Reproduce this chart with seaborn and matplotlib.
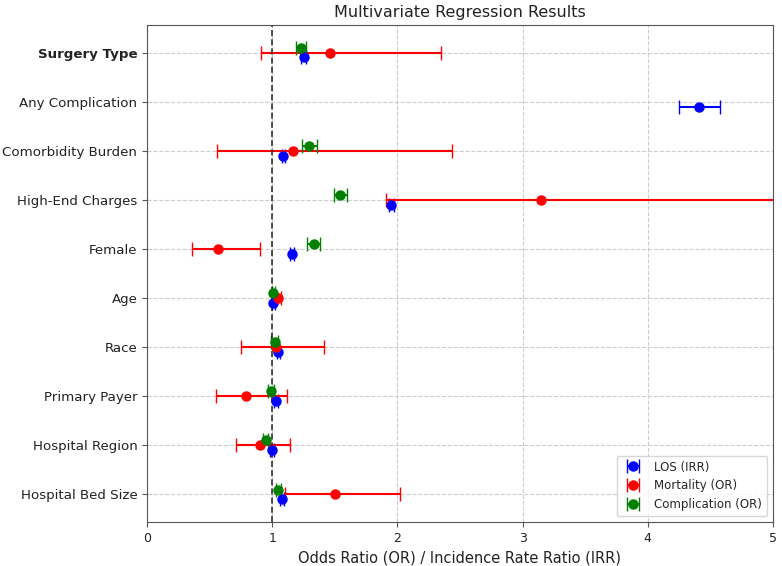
import numpy as np
import pandas as pd
import matplotlib
matplotlib.use("Agg")
import matplotlib.pyplot as plt
import seaborn as sns

sns.set_style("white")
plt.rcParams['font.family'] = ['DejaVu Sans']

# Predictors, top to bottom
predictors = ['Surgery Type', 'Any Complication', 'Comorbidity Burden', 'High-End Charges',
              'Female', 'Age', 'Race', 'Primary Payer', 'Hospital Region', 'Hospital Bed Size']

# LOS (IRR)
los_est = [1.25, 4.41, 1.09, 1.95, 1.16, 1.01, 1.05, 1.03, 1.00, 1.08]
los_lo = [1.23, 4.25, 1.075, 1.93, 1.145, 0.995, 1.035, 1.015, 0.985, 1.065]
los_hi = [1.27, 4.58, 1.105, 1.97, 1.175, 1.025, 1.065, 1.045, 1.015, 1.095]

# Mortality (OR)
mort_est = [1.46, np.nan, 1.17, 3.15, 0.57, 1.05, 1.03, 0.79, 0.90, 1.50]
mort_lo = [0.91, np.nan, 0.56, 1.91, 0.36, 1.03, 0.75, 0.55, 0.71, 1.10]
mort_hi = [2.35, np.nan, 2.44, 5.60, 0.90, 1.07, 1.41, 1.12, 1.14, 2.02]

# Complication (OR)
comp_est = [1.23, np.nan, 1.29, 1.54, 1.33, 1.01, 1.02, 0.99, 0.95, 1.05]
comp_lo = [1.19, np.nan, 1.24, 1.49, 1.28, 0.995, 0.99, 0.965, 0.93, 1.03]
comp_hi = [1.27, np.nan, 1.36, 1.60, 1.38, 1.025, 1.05, 1.015, 0.97, 1.07]

df = pd.DataFrame({'Predictor': predictors})
df['y'] = np.arange(len(predictors))[::-1]

series = [
    ('LOS (IRR)', los_est, los_lo, los_hi, 'blue', -0.1),
    ('Mortality (OR)', mort_est, mort_lo, mort_hi, 'red', 0.0),
    ('Complication (OR)', comp_est, comp_lo, comp_hi, 'green', 0.1),
]

fig, ax = plt.subplots(figsize=(7.82, 5.66), dpi=100)
fig.subplots_adjust(left=147/782, right=773/782, top=1-25/566, bottom=1-522/566)

for label, est, lo, hi, color, off in series:
    est = np.array(est)
    err = np.vstack([est - np.array(lo), np.array(hi) - est])
    ax.errorbar(est, df['y'] + off, xerr=err, fmt='o', color=color,
                ecolor=color, capsize=5, markersize=6.5, elinewidth=1.5, label=label)

ax.axvline(1, color='#222222', linestyle=(0, (4, 2)), linewidth=1.1)
ax.set_yticks(df['y'])
ax.set_yticklabels(df['Predictor'], fontsize=9.6, color='#222222')
ax.get_yticklabels()[0].set_fontweight('bold')
ax.set_xlim(0, 5)
ax.tick_params(axis='x', labelsize=9, labelcolor='#222222')
ax.tick_params(axis='both', length=3.5, direction='out', bottom=True, left=True, color='#555555')
ax.set_xlabel('Odds Ratio (OR) / Incidence Rate Ratio (IRR)', fontsize=10.5, color='#222222')
ax.set_title('Multivariate Regression Results', fontsize=11.5, color='#222222')
ax.grid(True, linestyle='--', color='#cccccc', linewidth=0.8)
ax.set_axisbelow(True)
ax.legend(loc='lower right', fontsize=8.5)

for spine in ax.spines.values():
    spine.set_color('#555555')

plt.savefig('out.png', dpi=100, facecolor='white')
